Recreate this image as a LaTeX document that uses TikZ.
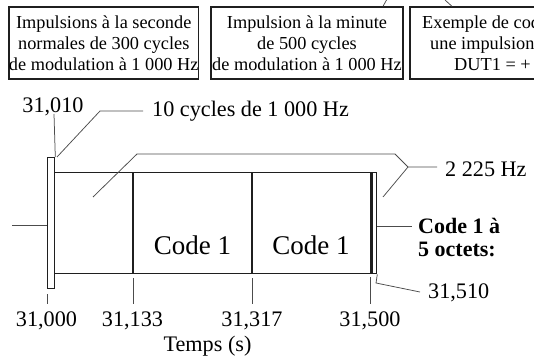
\documentclass[tikz,border=0pt]{standalone}
\usepackage{fontspec}
\setmainfont{Liberation Serif}
\begin{document}
\begin{tikzpicture}[x=1pt,y=-1pt,
  frame/.style={draw=black!88, line width=1.3pt},
  thick edge/.style={draw=black!88, line width=2.6pt},
  lead/.style={draw=black!70, line width=0.75pt},
  boxnode/.style={frame, inner sep=0pt, minimum height=72pt, align=center,
    font=\fontsize{18.3}{21}\selectfont},
  boxline/.style={inner sep=0pt, anchor=base west, font=\fontsize{18.3}{21}\selectfont},
  lbl/.style={inner sep=0pt, font=\fontsize{22.2}{26}\selectfont},
  bold lbl/.style={inner sep=0pt, font=\fontsize{22}{26}\selectfont\bfseries},
  codetxt/.style={inner sep=0pt, anchor=base, font=\fontsize{27}{30}\selectfont},
  bar/.style={frame, inner sep=0pt, anchor=north west, fill=white}]
\useasboundingbox (0,0) rectangle (534,358);
\clip (0,0) rectangle (534,358);

% --- legend boxes along the top
\node[boxnode, minimum width=188.5pt] (b1) at (103.75,43)
  {Impulsions à la seconde\\normales de 300 cycles\\de modulation à 1 000 Hz};
\node[boxnode, minimum width=192pt] (b2) at (307,43)
  {Impulsion à la minute\\de 500 cycles\\de modulation à 1 000 Hz};
\node[frame, inner sep=0pt, minimum height=72pt, minimum width=200pt] (b3) at (510,43) {};
\node[boxline] (b3a) at (422,28.3) {Exemple de cod};
\node[boxline] (b3b) at (430,49.3) {une impulsion};
\node[boxline] (b3c) at (454,70.3) {DUT1 = +};

% pointers leaving the top of boxes 2 and 3
\coordinate (p2) at (386.5,0);
\coordinate (p3) at (445,0);
\draw[lead] (b2.north -| 383,0) -- (p2);
\draw[lead] (b3.north -| 452,0) -- (p3);

% --- time axis positions
\coordinate (t000) at (47,0);
\coordinate (t010) at (54,0);
\coordinate (t133) at (133,0);
\coordinate (t317) at (252,0);
\coordinate (t500) at (370,0);
\coordinate (t510) at (376,0);

% --- pulse frame
\node[bar, minimum width=7pt, minimum height=131pt] (bar0) at (47,157) {};
\node[frame, inner sep=0pt, anchor=north west, minimum width=316pt, minimum height=101pt] (frm) at (54,172) {};
\draw[frame] (frm.north -| t133) -- (frm.south -| t133);
\draw[frame] (frm.north -| t317) -- (frm.south -| t317);
\node[bar, minimum width=6pt, minimum height=101pt] (bar1) at (370,172) {};
\draw[thick edge] (frm.north east) -- (frm.south east);

\node[codetxt] (c1) at (192.5,254.5) {Code 1};
\node[codetxt] (c2) at (311,254.5) {Code 1};

% --- signal in and out
\coordinate (sigin) at (12,225.5);
\draw[lead] (sigin) -- (sigin -| bar0.west);
\node[bold lbl, anchor=base west] (codea) at (418,233) {Code 1 à};
\node[bold lbl, anchor=base west] (codeb) at (418,256.7) {5 octets:};
\coordinate (codeend) at (412,226);
\draw[lead] (bar1.east |- codeend) -- (codeend);

% --- annotations
\node[lbl, anchor=base] (l010) at (53,112.5) {31,010};
\draw[lead] (t010 |- 0,114) -- (bar0.north east);

\node[lbl, anchor=base west] (cyc) at (152,116.5) {10 cycles de 1 000 Hz};
\coordinate (cyca) at (100,111);
\coordinate (cycb) at (143,111);
\draw[lead] (57,157) -- (cyca) -- (cycb);

\node[lbl, anchor=base west] (hz) at (445,176) {2 225 Hz};
\coordinate (hza) at (93,197);
\coordinate (hzb) at (137,154);
\coordinate (hzc) at (395,154);
\coordinate (hzd) at (408,167);
\coordinate (hze) at (383,197);
\coordinate (hzf) at (437,167);
\draw[lead] (hza) -- (hzb) -- (hzc) -- (hzd) -- (hzf);
\draw[lead] (hze) -- (hzd);

\node[lbl, anchor=base west] (l510) at (428,298) {31,510};
\coordinate (k510) at (376,283);
\coordinate (k510b) at (420,292);
\draw[lead] (bar1.south east) -- (k510) -- (k510b);

% --- ticks and time labels
\draw[lead] (t000 |- 0,294) -- (t000 |- 0,304);
\draw[lead] (t133 |- 0,278) -- (t133 |- 0,304);
\draw[lead] (t317 |- 0,278) -- (t317 |- 0,304);
\draw[lead] (t500 |- 0,277) -- (t500 |- 0,304);
\node[lbl, anchor=base] (a000) at (46.5,326) {31,000};
\node[lbl, anchor=base] (a133) at (132.5,326) {31,133};
\node[lbl, anchor=base] (a317) at (252,326) {31,317};
\node[lbl, anchor=base] (a500) at (370,326) {31,500};
\node[lbl, anchor=base] (axis) at (207.5,351) {Temps (s)};
\end{tikzpicture}
\end{document}
